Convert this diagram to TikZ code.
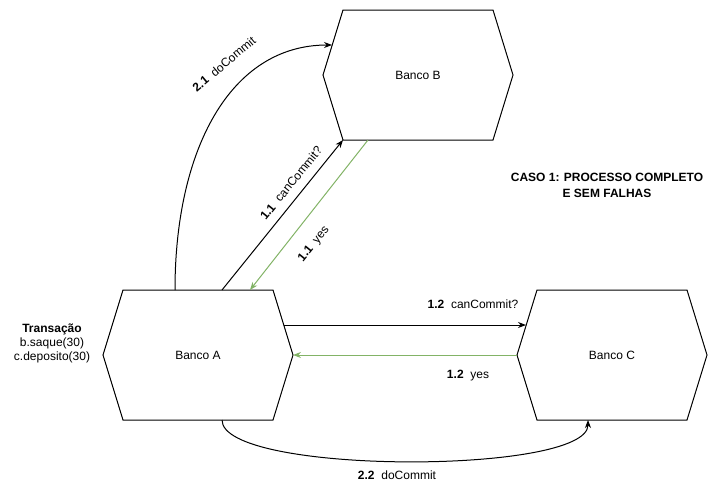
\documentclass[tikz,border=0pt]{standalone}
\usepackage{fontspec}
\setmainfont{Liberation Sans}
\usetikzlibrary{calc,arrows.meta}
\definecolor{okgreen}{HTML}{82B366}
\tikzset{
	banco/.style={draw=none, minimum width=190pt, minimum height=130pt, inner sep=0pt, outer sep=0pt, font=\fontsize{12}{14}\selectfont},
	hexline/.style={line width=1pt, line join=miter},
	msg/.style={line width=1pt, -{Stealth[length=8pt,width=6pt]}},
	okmsg/.style={msg, draw=okgreen},
	lbl/.style={font=\fontsize{12}{14}\selectfont, inner sep=1pt}
}

\begin{document}
\begin{tikzpicture}[x=1pt, y=-1pt]
			%%%%% START %%%%%
			\useasboundingbox (0, 0) rectangle (718, 501);
			
			\node[banco] (bancoA) at (198, 355) {Banco A};
			\node[banco] (bancoB) at (418, 75) {Banco B};
			\node[banco] (bancoC) at (612, 355) {Banco C};
			
			\foreach \b in {bancoA, bancoB, bancoC}
				\draw[hexline] ([xshift=20pt]\b.north west) -- ([xshift=-20pt]\b.north east) -- (\b.east)
					-- ([xshift=-20pt]\b.south east) -- ([xshift=20pt]\b.south west) -- (\b.west) -- cycle;
			
			\node[lbl, align=center] (trans) at (52, 343) {\textbf{Transação}\\b.saque(30)\\c.deposito(30)};
			\node[lbl, align=center, font=\fontsize{12}{16}\selectfont\bfseries] (caso) at (607, 185) {CASO 1: PROCESSO COMPLETO\\E SEM FALHAS};
			
			% fase 1
			\draw[msg] ([xshift=24pt]bancoA.north) -- ([xshift=20pt]bancoB.south west);
			\draw[okmsg] ([xshift=-50pt]bancoB.south) -- ([xshift=52pt]bancoA.north);
			\draw[msg] ([xshift=-9pt, yshift=30pt]bancoA.east) -- ([xshift=9pt, yshift=30pt]bancoC.west);
			\draw[okmsg] (bancoC.west) -- (bancoA.east);
			
			\node[lbl, rotate=51] (l11a) at (291, 183) {\textbf{1.1}\ \ canCommit?};
			\node[lbl, rotate=51] (l11b) at (314, 244) {\textbf{1.1}\ \ yes};
			\node[lbl] (l12a) at (473, 304) {\textbf{1.2}\ \ canCommit?};
			\node[lbl] (l12b) at (468, 376) {\textbf{1.2}\ \ yes};
			
			% fase 2
			\draw[msg] ([xshift=-23pt]bancoA.north) .. controls (175, 150) and (230, 45) .. ([xshift=9pt, yshift=30pt]bancoB.west);
			\draw[msg] ([xshift=24pt]bancoA.south) .. controls (222, 475) and (588, 475) .. ([xshift=-24pt]bancoC.south);
			
			\node[lbl, rotate=40] (l21) at (224, 64) {\textbf{2.1}\ \ doCommit};
			\node[lbl] (l22) at (397, 475) {\textbf{2.2}\ \ doCommit};
			%%%%% END %%%%%
\end{tikzpicture}
\end{document}
